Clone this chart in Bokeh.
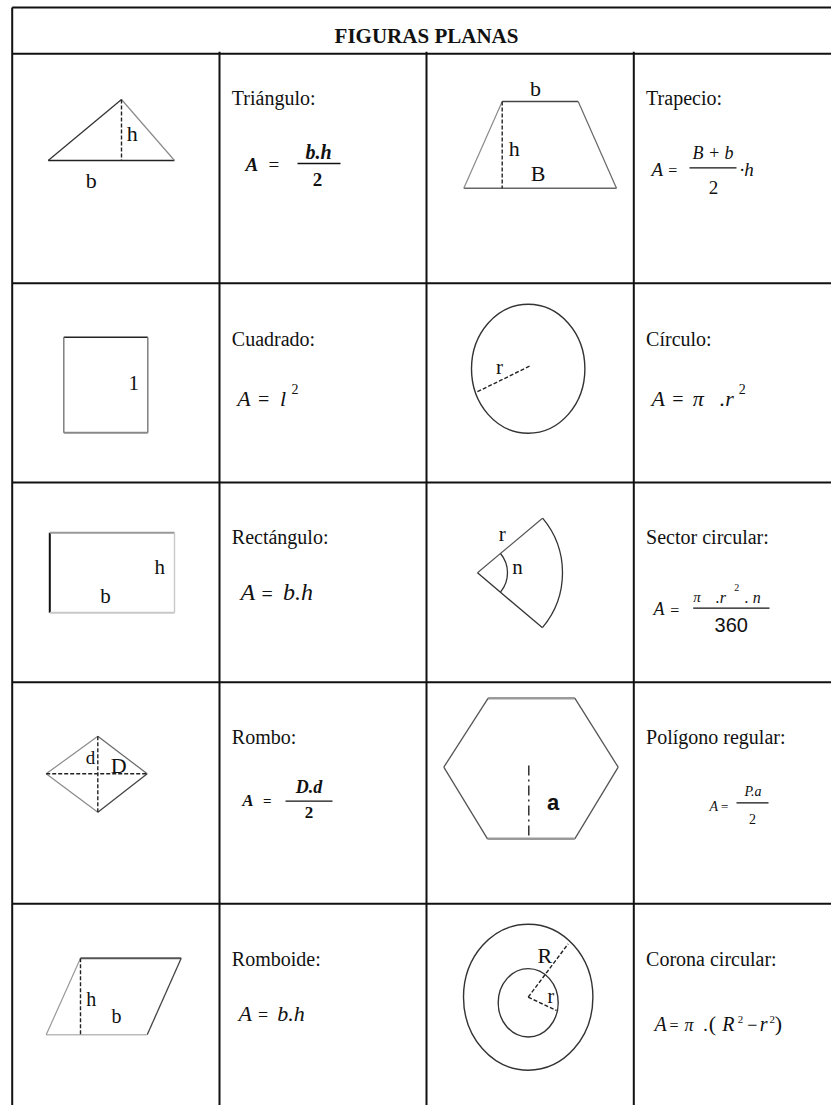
import math
from bokeh.plotting import figure
from bokeh.models import ColumnDataSource, Range1d
from bokeh.embed import file_html
from bokeh.resources import INLINE

SERIF = "Liberation Serif"
SANS = "Liberation Sans"

# ---------------- table layout (page pixels) ----------------
TITLE = "FIGURAS PLANAS"
COL_X = [11.7, 219.0, 426.0, 633.3]
ROW_Y = [53.3, 282.7, 482.0, 681.7, 903.3]
TOP_Y = 7.0
BOTTOM_Y = 1110.0
RIGHT_X = 840.0
TITLE_BASELINE = 43.0

# ---------------- names of the figures ----------------
NAMES = ["Triángulo:", "Trapecio:", "Cuadrado:", "Círculo:", "Rectángulo:",
         "Sector circular:", "Rombo:", "Polígono regular:", "Romboide:", "Corona circular:"]
NAME_COLS = [1, 3, 1, 3, 1, 3, 1, 3, 1, 3]
NAME_ROWS = [0, 0, 1, 1, 2, 2, 3, 3, 4, 4]
NAME_DX = 12.3
NAME_DY = [50.7, 62.3, 61.0, 61.3, 61.7]

# ---------------- formula pieces: col, row, dx, dy(baseline), text, size, style, font, align ----------------
FORMULA = [
    # Triángulo  A = b.h / 2
    (1, 0, 26.0, 116.7, "A", 19, "bold italic", SERIF, "left"),
    (1, 0, 49.0, 116.7, "=", 19, "normal", SERIF, "left"),
    (1, 0, 99.0, 104.7, "b.h", 20, "bold italic", SERIF, "center"),
    (1, 0, 98.0, 131.7, "2", 19, "bold", SERIF, "center"),
    # Trapecio  A = (B+b)/2 · h
    (3, 0, 17.7, 121.7, "A", 19, "italic", SERIF, "left"),
    (3, 0, 34.5, 121.7, "=", 16, "normal", SERIF, "left"),
    (3, 0, 79.2, 105.7, "B + b", 18, "italic", SERIF, "center"),
    (3, 0, 105.7, 121.7, "·h", 19, "italic", SERIF, "left"),
    (3, 0, 79.7, 139.7, "2", 19, "normal", SERIF, "center"),
    # Cuadrado  A = l^2
    (1, 1, 17.7, 122.3, "A", 22, "italic", SERIF, "left"),
    (1, 1, 38.5, 122.3, "=", 20, "normal", SERIF, "left"),
    (1, 1, 60.5, 122.3, "l", 22, "italic", SERIF, "left"),
    (1, 1, 72.0, 111.0, "2", 14, "normal", SERIF, "left"),
    # Círculo  A = π . r^2
    (3, 1, 17.7, 122.3, "A", 22, "italic", SERIF, "left"),
    (3, 1, 38.5, 122.3, "=", 20, "normal", SERIF, "left"),
    (3, 1, 59.0, 122.3, "π", 22, "italic", SERIF, "left"),
    (3, 1, 86.0, 122.3, ".r", 22, "italic", SERIF, "left"),
    (3, 1, 105.0, 111.0, "2", 14, "normal", SERIF, "left"),
    # Rectángulo  A = b.h
    (1, 2, 21.0, 118.0, "A", 24, "italic", SERIF, "left"),
    (1, 2, 42.0, 118.0, "=", 20, "normal", SERIF, "left"),
    (1, 2, 63.5, 118.0, "b.h", 24, "italic", SERIF, "left"),
    # Sector circular  A = π.r^2.n / 360
    (3, 2, 19.7, 133.0, "A", 18, "italic", SERIF, "left"),
    (3, 2, 36.5, 133.0, "=", 16, "normal", SERIF, "left"),
    (3, 2, 59.4, 120.0, "π", 15, "italic", SERIF, "left"),
    (3, 2, 82.0, 120.0, ".r", 16, "italic", SERIF, "left"),
    (3, 2, 100.5, 108.5, "2", 10, "normal", SERIF, "left"),
    (3, 2, 111.0, 120.0, ". n", 16, "italic", SERIF, "left"),
    (3, 2, 97.5, 149.7, "360", 20, "normal", SANS, "center"),
    # Rombo  A = D.d / 2
    (1, 3, 22.7, 124.3, "A", 17, "bold italic", SERIF, "left"),
    (1, 3, 43.5, 124.3, "=", 15, "bold", SERIF, "left"),
    (1, 3, 89.5, 111.3, "D.d", 18, "bold italic", SERIF, "center"),
    (1, 3, 89.5, 136.3, "2", 17, "bold", SERIF, "center"),
    # Polígono regular  A = P.a / 2
    (3, 3, 75.7, 129.0, "A", 14, "italic", SERIF, "left"),
    (3, 3, 87.2, 129.0, "=", 13, "normal", SERIF, "left"),
    (3, 3, 119.2, 114.3, "P.a", 14, "italic", SERIF, "center"),
    (3, 3, 118.7, 141.3, "2", 14, "normal", SERIF, "center"),
    # Romboide  A = b.h
    (1, 4, 19.0, 117.4, "A", 22, "italic", SERIF, "left"),
    (1, 4, 38.5, 117.4, "=", 18, "normal", SERIF, "left"),
    (1, 4, 57.7, 117.4, "b.h", 22, "italic", SERIF, "left"),
    # Corona circular  A = π .(R^2 - r^2)
    (3, 4, 20.7, 127.2, "A", 20, "italic", SERIF, "left"),
    (3, 4, 35.7, 127.2, "=", 16, "normal", SERIF, "left"),
    (3, 4, 50.7, 127.2, "π", 18, "italic", SERIF, "left"),
    (3, 4, 69.5, 127.2, ".", 18, "normal", SERIF, "left"),
    (3, 4, 75.0, 127.2, "(", 22, "normal", SERIF, "left"),
    (3, 4, 88.5, 127.2, "R", 20, "italic", SERIF, "left"),
    (3, 4, 104.0, 119.5, "2", 11, "normal", SERIF, "left"),
    (3, 4, 113.5, 127.2, "−", 18, "normal", SERIF, "left"),
    (3, 4, 126.0, 127.2, "r", 20, "italic", SERIF, "left"),
    (3, 4, 135.8, 119.5, "2", 11, "normal", SERIF, "left"),
    (3, 4, 141.0, 127.2, ")", 22, "normal", SERIF, "left"),
]

# fraction bars: col, row, x0, x1, y
BARS = [
    (1, 0, 78.0, 121.0, 109.7),
    (3, 0, 55.7, 102.7, 114.0),
    (3, 2, 59.4, 135.7, 125.7),
    (1, 3, 66.0, 113.0, 119.0),
    (3, 3, 102.7, 134.7, 120.6),
]

# ---------------- labels inside the drawings: col, row, cx, cy, text, size, style, font ----------------
LABELS = [
    (0, 0, 120.0, 80.0, "h", 22, "normal", SERIF),
    (0, 0, 79.0, 126.7, "b", 22, "normal", SERIF),
    (2, 0, 109.0, 34.7, "b", 22, "normal", SERIF),
    (2, 0, 87.7, 95.0, "h", 22, "normal", SERIF),
    (2, 0, 111.7, 120.0, "B", 22, "normal", SERIF),
    (0, 1, 121.6, 99.3, "1", 21, "normal", SERIF),
    (2, 1, 73.0, 84.0, "r", 21, "normal", SERIF),
    (0, 2, 147.6, 84.7, "h", 21, "normal", SERIF),
    (0, 2, 93.3, 113.5, "b", 21, "normal", SERIF),
    (2, 2, 75.7, 51.5, "r", 21, "normal", SERIF),
    (2, 2, 91.0, 84.0, "n", 21, "normal", SERIF),
    (0, 3, 78.3, 75.0, "d", 19, "normal", SERIF),
    (0, 3, 106.6, 83.3, "D", 22, "normal", SERIF),
    (2, 3, 126.7, 120.0, "a", 22, "bold", SANS),
    (0, 4, 79.0, 95.0, "h", 20, "normal", SERIF),
    (0, 4, 104.3, 112.0, "b", 20, "normal", SERIF),
    (2, 4, 118.3, 51.7, "R", 22, "normal", SERIF),
    (2, 4, 124.3, 92.5, "r", 20, "normal", SERIF),
]

# ---------------- drawing outlines: col, row, x0, y0, x1, y1, colour, width ----------------
EDGES = [
    # triangle
    (0, 0, 36.0, 106.7, 162.3, 106.7, "#222222", 1.4),
    (0, 0, 36.0, 106.7, 109.3, 45.7, "#333333", 1.3),
    (0, 0, 109.3, 45.7, 162.3, 106.7, "#8a8a8a", 1.2),
    # trapezoid
    (2, 0, 75.7, 47.7, 151.7, 47.7, "#444444", 1.5),
    (2, 0, 151.7, 47.7, 190.0, 134.4, "#666666", 1.2),
    (2, 0, 190.0, 134.4, 37.3, 134.4, "#666666", 1.4),
    (2, 0, 37.3, 134.4, 75.7, 47.7, "#8a8a8a", 1.2),
    # square
    (0, 1, 51.6, 54.0, 135.6, 54.0, "#222222", 1.5),
    (0, 1, 135.6, 54.0, 135.6, 149.6, "#777777", 1.4),
    (0, 1, 135.6, 149.6, 51.6, 149.6, "#888888", 2.0),
    (0, 1, 51.6, 149.6, 51.6, 54.0, "#777777", 1.4),
    # rectangle
    (0, 2, 37.6, 50.3, 37.6, 130.3, "#111111", 2.0),
    (0, 2, 37.6, 50.3, 162.3, 50.3, "#999999", 2.0),
    (0, 2, 162.3, 50.3, 162.3, 130.3, "#c8c8c8", 1.4),
    (0, 2, 162.3, 130.3, 37.6, 130.3, "#c8c8c8", 2.0),
    # sector radii
    (2, 2, 51.0, 90.3, 116.0, 35.7, "#555555", 1.2),
    (2, 2, 51.0, 90.3, 116.0, 145.3, "#333333", 1.3),
    # rhombus
    (0, 3, 34.0, 91.6, 85.6, 54.0, "#8a8a8a", 1.2),
    (0, 3, 85.6, 54.0, 135.0, 91.6, "#666666", 1.2),
    (0, 3, 135.0, 91.6, 85.6, 130.0, "#444444", 1.3),
    (0, 3, 85.6, 130.0, 34.0, 91.6, "#8a8a8a", 1.2),
    # hexagon
    (2, 3, 61.7, 16.0, 148.3, 16.0, "#9a9a9a", 2.5),
    (2, 3, 148.3, 16.0, 191.7, 85.0, "#555555", 1.3),
    (2, 3, 191.7, 85.0, 148.3, 156.6, "#555555", 1.3),
    (2, 3, 148.3, 156.6, 61.0, 156.6, "#9a9a9a", 2.5),
    (2, 3, 61.0, 156.6, 17.3, 85.0, "#555555", 1.3),
    (2, 3, 17.3, 85.0, 61.7, 16.0, "#555555", 1.3),
    # parallelogram
    (0, 4, 68.3, 54.4, 169.0, 54.4, "#555555", 2.0),
    (0, 4, 169.0, 54.4, 135.0, 131.0, "#444444", 1.3),
    (0, 4, 135.0, 131.0, 34.0, 131.0, "#bbbbbb", 1.6),
    (0, 4, 34.0, 131.0, 68.3, 54.4, "#999999", 1.2),
]

# dashed lines: col, row, x0, y0, x1, y1
DASHED = [
    (0, 0, 109.3, 45.7, 109.3, 106.7),
    (2, 0, 75.7, 47.7, 75.7, 134.4),
    (2, 1, 103.0, 83.0, 50.0, 109.0),
    (0, 3, 34.0, 91.6, 135.0, 91.6),
    (0, 3, 85.6, 54.0, 85.6, 130.0),
    (0, 4, 68.3, 54.4, 68.3, 131.0),
    (2, 4, 101.7, 93.4, 141.7, 40.0),
    (2, 4, 101.7, 93.4, 130.0, 106.7),
]
LONG_DASHED = [
    (2, 3, 102.3, 83.3, 102.3, 156.6),
]

# ellipses: col, row, cx, cy, width, height
ELLIPSES = [
    (2, 1, 101.7, 85.6, 113.4, 129.0),
    (2, 4, 101.7, 93.4, 129.4, 146.0),
    (2, 4, 101.7, 99.0, 60.0, 68.3),
]

# arcs (sector): col, row, cx, cy, radius, half angle (deg)
ARCS = [
    (2, 2, 51.0, 90.3, 85.0, 40.0),
    (2, 2, 51.0, 90.3, 30.0, 40.0),
]

W, H = 831, 1105


def X(c, dx):
    return COL_X[c] + dx


def Y(r, dy):
    return -(ROW_Y[r] + dy)


p = figure(width=W, height=H, output_backend="svg", toolbar_location=None,
           x_axis_location=None, y_axis_location=None,
           x_range=Range1d(0, W), y_range=Range1d(-H, 0),
           min_border=0, background_fill_color="white", border_fill_color="white")
p.outline_line_color = None
p.grid.visible = False

# table rules
tx0, ty0, tx1, ty1 = [], [], [], []
tx0.append(COL_X[0]); ty0.append(-TOP_Y); tx1.append(RIGHT_X); ty1.append(-TOP_Y)
for ry in ROW_Y:
    tx0.append(COL_X[0]); ty0.append(-ry); tx1.append(RIGHT_X); ty1.append(-ry)
tx0.append(COL_X[0]); ty0.append(-TOP_Y); tx1.append(COL_X[0]); ty1.append(-BOTTOM_Y)
for cx in COL_X[1:]:
    tx0.append(cx); ty0.append(-ROW_Y[0] + 2); tx1.append(cx); ty1.append(-BOTTOM_Y)
p.segment(x0=tx0, y0=ty0, x1=tx1, y1=ty1, line_color="#111111", line_width=2.0)

# outlines
p.segment(x0=[X(e[0], e[2]) for e in EDGES], y0=[Y(e[1], e[3]) for e in EDGES],
          x1=[X(e[0], e[4]) for e in EDGES], y1=[Y(e[1], e[5]) for e in EDGES],
          line_color=[e[6] for e in EDGES], line_width=[e[7] for e in EDGES])

p.segment(x0=[X(e[0], e[2]) for e in DASHED], y0=[Y(e[1], e[3]) for e in DASHED],
          x1=[X(e[0], e[4]) for e in DASHED], y1=[Y(e[1], e[5]) for e in DASHED],
          line_color="#222222", line_width=1.4, line_dash="4 2")
p.segment(x0=[X(e[0], e[2]) for e in LONG_DASHED], y0=[Y(e[1], e[3]) for e in LONG_DASHED],
          x1=[X(e[0], e[4]) for e in LONG_DASHED], y1=[Y(e[1], e[5]) for e in LONG_DASHED],
          line_color="#222222", line_width=1.4, line_dash="10 4 2 4")

p.ellipse(x=[X(e[0], e[2]) for e in ELLIPSES], y=[Y(e[1], e[3]) for e in ELLIPSES],
          width=[e[4] for e in ELLIPSES], height=[e[5] for e in ELLIPSES],
          fill_color=None, line_color="#333333", line_width=1.4)

p.arc(x=[X(a[0], a[2]) for a in ARCS], y=[Y(a[1], a[3]) for a in ARCS],
      radius=[a[4] for a in ARCS],
      start_angle=[-math.radians(a[5]) for a in ARCS],
      end_angle=[math.radians(a[5]) for a in ARCS],
      direction="anticlock", line_color="#333333", line_width=1.3)

# fraction bars
p.segment(x0=[X(b[0], b[2]) for b in BARS], y0=[Y(b[1], b[4]) for b in BARS],
          x1=[X(b[0], b[3]) for b in BARS], y1=[Y(b[1], b[4]) for b in BARS],
          line_color="#111111", line_width=1.3)

# texts (all anchored at their vertical middle; baseline entries are converted)
rows = {"x": [], "y": [], "text": [], "size": [], "style": [], "font": [], "align": []}


def add(x, y, t, size, style, font, align, base):
    if base == "alphabetic":
        y = y + 0.34 * size
    rows["x"].append(x); rows["y"].append(y); rows["text"].append(t)
    rows["size"].append(f"{size}px"); rows["style"].append(style)
    rows["font"].append(font); rows["align"].append(align)


add(COL_X[2], -TITLE_BASELINE, TITLE, 21, "bold", SERIF, "center", "alphabetic")
for name, c, r in zip(NAMES, NAME_COLS, NAME_ROWS):
    add(X(c, NAME_DX), Y(r, NAME_DY[r]), name, 20, "normal", SERIF, "left", "alphabetic")
for f in FORMULA:
    add(X(f[0], f[2]), Y(f[1], f[3]), f[4], f[5], f[6], f[7], f[8], "alphabetic")
for l in LABELS:
    add(X(l[0], l[2]), Y(l[1], l[3]), l[4], l[5], l[6], l[7], "center", "middle")

src = ColumnDataSource(rows)
p.text(x="x", y="y", text="text", source=src, text_font="font", text_font_size="size",
       text_font_style="style", text_align="align", text_baseline="middle", text_color="#111111")

open("out.html", "w").write(file_html(p, INLINE))
